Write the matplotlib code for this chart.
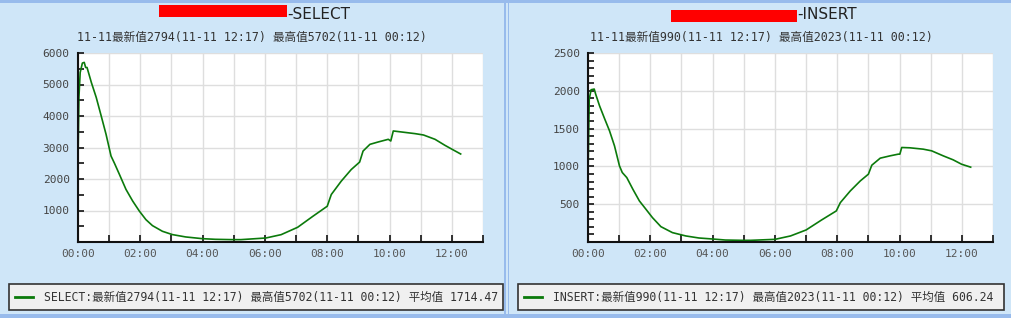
import matplotlib
matplotlib.use("Agg")
import matplotlib.pyplot as plt
from matplotlib.patches import Rectangle
from matplotlib.lines import Line2D

W, H = 1012, 318

# ---------------- data ----------------
sel_t = [0, 0.03, 0.07, 0.14, 0.2, 0.245, 0.29, 0.43, 0.585, 0.745, 0.9, 1.06, 1.17, 1.33,
         1.54, 1.755, 1.97, 2.18, 2.39, 2.71, 3.03, 3.46, 3.99, 4.41, 4.95, 5.23, 6.03, 6.52,
         7.05, 7.54, 8.0, 8.13, 8.45, 8.77, 9.04, 9.15, 9.37, 9.63, 9.96, 10.04, 10.12, 10.39,
         10.82, 11.09, 11.46, 11.78, 12.05, 12.283]
sel_v = [2600, 4600, 5380, 5680, 5702, 5540, 5540, 5060, 4590, 4000, 3420, 2730, 2500, 2145,
         1670, 1300, 980, 710, 520, 340, 235, 160, 106, 85, 75, 75, 127, 233,
         467, 817, 1135, 1507, 1932, 2300, 2537, 2887, 3100, 3174, 3260, 3206, 3525, 3492,
         3440, 3397, 3260, 3068, 2920, 2794]

ins_t = [0, 0.04, 0.1, 0.2, 0.245, 0.37, 0.53, 0.69, 0.85, 1.01, 1.1, 1.245, 1.44, 1.65,
         1.86, 2.07, 2.34, 2.71, 3.14, 3.56, 3.99, 4.41, 4.95, 5.22, 6.0, 6.5, 7.0, 7.5,
         7.97, 8.1, 8.42, 8.74, 9.0, 9.11, 9.38, 9.7, 9.96, 10.01, 10.07, 10.33, 10.76,
         11.03, 11.4, 11.72, 11.99, 12.283]
ins_v = [880, 1890, 2014, 2023, 1957, 1802, 1634, 1471, 1272, 1007, 919, 852, 698, 543,
         433, 322, 203, 124, 80, 53, 40, 26, 22, 22, 35, 80, 159, 292,
         411, 521, 676, 808, 897, 1016, 1109, 1140, 1162, 1162, 1250, 1246, 1228,
         1206, 1140, 1087, 1029, 990]

x_ticks = list(range(0, 14))
x_labels = ["00:00", "", "02:00", "", "04:00", "", "06:00", "", "08:00", "", "10:00", "", "12:00", ""]

sel_yticks = [1000, 2000, 3000, 4000, 5000, 6000]
sel_minor = [500, 1500, 2500, 3500, 4500, 5500]
ins_yticks = [500, 1000, 1500, 2000, 2500]
ins_minor = [v for v in range(100, 2500, 100) if v % 500 != 0]

panels = [
    dict(name="SELECT", t=sel_t, v=sel_v, ymax=6000, yticks=sel_yticks, yminor=sel_minor,
         sub="11-11最新值2794(11-11 12:17) 最高值5702(11-11 00:12)",
         leg="SELECT:最新值2794(11-11 12:17) 最高值5702(11-11 00:12) 平均值 1714.47",
         x0=0, ax_left=78, red=(159, 5, 128, 12), title_x=287,
         leg_box=(9, 284, 494, 26)),
    dict(name="INSERT", t=ins_t, v=ins_v, ymax=2500, yticks=ins_yticks, yminor=ins_minor,
         sub="11-11最新值990(11-11 12:17) 最高值2023(11-11 00:12)",
         leg="INSERT:最新值990(11-11 12:17) 最高值2023(11-11 00:12) 平均值 606.24",
         x0=509, ax_left=588, red=(671, 10, 126, 12), title_x=797,
         leg_box=(518, 284, 486, 26)),
]

BG = "#cfe6f8"
BORDER = "#98bbec"
LINE = "#0b7a0b"
MIXED = ["DejaVu Sans Mono", "Noto Sans CJK SC"]

fig = plt.figure(figsize=(W / 100, H / 100), dpi=100, facecolor=BG)


def frect(x, y, w, h, **kw):
    # pixel coords (top-left origin)
    r = Rectangle((x / W, 1 - (y + h) / H), w / W, h / H, transform=fig.transFigure, **kw)
    fig.patches.append(r)
    return r


def ftext(x, y, s, **kw):
    return fig.text(x / W, 1 - y / H, s, **kw)


# borders
frect(0, 0, W, 2.5, facecolor=BORDER, edgecolor="none")
frect(0, 314, W, 4, facecolor=BORDER, edgecolor="none")
frect(504, 0, 1.6, H, facecolor=BORDER, edgecolor="none")
frect(507.5, 0, 1.6, H, facecolor=BORDER, edgecolor="none")

for p in panels:
    ax = fig.add_axes([p["ax_left"] / W, (H - 242) / H, 405 / W, 189 / H])
    ax.set_facecolor("white")
    ax.plot(p["t"], p["v"], color=LINE, lw=1.2)
    ax.set_xlim(0, 13)
    ax.set_ylim(0, p["ymax"])
    ax.set_xticks(x_ticks)
    ax.set_xticklabels(x_labels)
    ax.set_yticks(p["yticks"])
    ax.set_yticklabels([str(v) for v in p["yticks"]])
    ax.set_yticks(p["yminor"], minor=True)
    for s in ["top", "right"]:
        ax.spines[s].set_visible(False)
    for s in ["left", "bottom"]:
        ax.spines[s].set_color("#111111")
        ax.spines[s].set_linewidth(1.5)
    ax.grid(True, which="major", color="#dedede", lw=1.0)
    ax.set_axisbelow(True)
    ax.tick_params(axis="both", which="both", direction="in", color="#111111", width=1.2)
    ax.tick_params(axis="x", length=5, pad=5, labelsize=8, labelcolor="#555555")
    ax.tick_params(axis="y", which="major", length=4, pad=6, labelsize=8, labelcolor="#444444")
    ax.tick_params(axis="y", which="minor", length=4)
    for lab in ax.get_xticklabels() + ax.get_yticklabels():
        lab.set_fontfamily("DejaVu Sans Mono")

    # title
    rx, ry, rw, rh = p["red"]
    frect(rx, ry, rw, rh, facecolor="#ff0000", edgecolor="none")
    ftext(p["title_x"], 14.5, "-" + p["name"], ha="left", va="center", fontsize=11,
          family="DejaVu Sans", color="#222222")
    # subtitle
    cx = p["x0"] + 252
    ftext(cx, 37, p["sub"], ha="center", va="center", fontsize=8.4, family=MIXED,
          color="#333333")

    # legend box
    lx, ly, lw_, lh = p["leg_box"]
    frect(lx, ly, lw_, lh, facecolor="#f0f0f0", edgecolor="#333333", linewidth=1.2)
    ly_c = ly + lh / 2
    fig.lines.append(Line2D([(lx + 6) / W, (lx + 24) / W], [1 - ly_c / H, 1 - ly_c / H],
                            transform=fig.transFigure, color=LINE, lw=2))
    ftext(lx + 35, ly_c, p["leg"], ha="left", va="center", fontsize=8.3, family=MIXED,
          color="#333333")

fig.savefig("out.png", dpi=100, facecolor=BG)
